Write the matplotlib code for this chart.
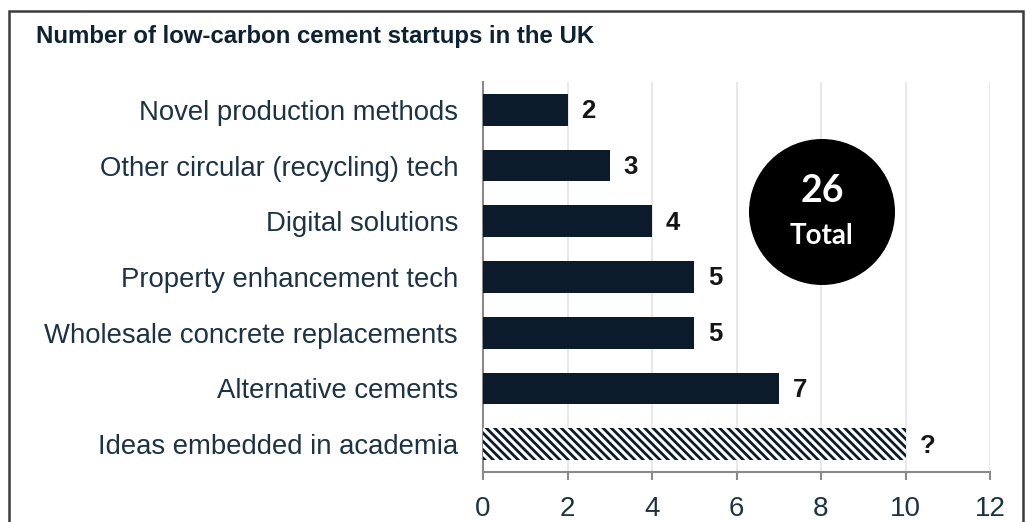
import matplotlib
matplotlib.use("Agg")
import matplotlib.pyplot as plt
from matplotlib.patches import Ellipse, Rectangle

plt.rcParams["font.family"] = ["Liberation Sans", "DejaVu Sans"]
plt.rcParams["hatch.linewidth"] = 2.0

categories = [
    "Novel production methods",
    "Other circular (recycling) tech",
    "Digital solutions",
    "Property enhancement tech",
    "Wholesale concrete replacements",
    "Alternative cements",
    "Ideas embedded in academia",
]
counts = [2, 3, 4, 5, 5, 7, 10]
value_labels = ["2", "3", "4", "5", "5", "7", "?"]
hatched = [False, False, False, False, False, False, True]
total_count = sum(counts[:-1])
x_ticks = [0, 2, 4, 6, 8, 10, 12]

bar_color = "#0c1b2b"
text_color = "#1b3344"
axis_grey = "#8a8a8a"

W, H = 1026, 522
fig = plt.figure(figsize=(W / 100, H / 100), dpi=100)
fig.patch.set_facecolor("white")

# outer frame
fig.add_artist(Rectangle((9 / W, -0.05), (1023 - 9) / W, (1 - 11 / H) + 0.05,
                         transform=fig.transFigure, fill=False,
                         edgecolor="#3c3c3c", linewidth=1.8))

fig.text(36 / W, 1 - 43 / H, "Number of low-carbon cement startups in the UK",
         fontsize=17.3, fontweight="bold", color="#0d2233", va="baseline", ha="left")

ax = fig.add_axes([483 / W, 1 - 472 / H, (990 - 483) / W, (472 - 82) / H])
ypos = list(range(len(categories)))
for y, v, h in zip(ypos, counts, hatched):
    if h:
        ax.barh(y, v, height=0.57, color="white", edgecolor=bar_color,
                hatch="\\\\\\\\", linewidth=0, zorder=3)
    else:
        ax.barh(y, v, height=0.57, color=bar_color, linewidth=0, zorder=3)

for y, v, lab in zip(ypos, counts, value_labels):
    ax.annotate(lab, (v, y), xytext=(10, -1), textcoords="offset points",
                va="center", ha="left", fontsize=18.5, fontweight="bold",
                color="#151515")

ax.set_xlim(0, 12)
ax.set_ylim(len(categories) - 0.5, -0.5)
ax.set_yticks(ypos)
ax.set_yticklabels(categories, fontsize=19.8, color=text_color)
ax.set_xticks(x_ticks)
ax.set_xticklabels([str(t) for t in x_ticks], fontsize=20, color=text_color)
ax.tick_params(axis="y", length=0, pad=18)
ax.tick_params(axis="x", length=6, width=1.5, color=axis_grey, pad=11)
ax.grid(axis="x", color="#e4e4e4", linewidth=1.2, zorder=0)
for s in ["top", "right"]:
    ax.spines[s].set_visible(False)
for s in ["left", "bottom"]:
    ax.spines[s].set_color(axis_grey)
    ax.spines[s].set_linewidth(1.5)

# total badge
cx, cy, r = 822, 212, 73
fig.add_artist(Ellipse((cx / W, 1 - cy / H), 2 * r / W, 2 * r / H,
                       transform=fig.transFigure, facecolor="black",
                       edgecolor="none", zorder=5))
fig.text(cx / W, 1 - 191 / H, str(total_count), fontsize=27, fontweight="bold",
         color="white", ha="center", va="center", family="Lato", zorder=6)
fig.text(cx / W, 1 - 236 / H, "Total", fontsize=20, fontweight="bold",
         color="white", ha="center", va="center", family="Lato", zorder=6)

fig.savefig("out.png", dpi=100, facecolor="white")
